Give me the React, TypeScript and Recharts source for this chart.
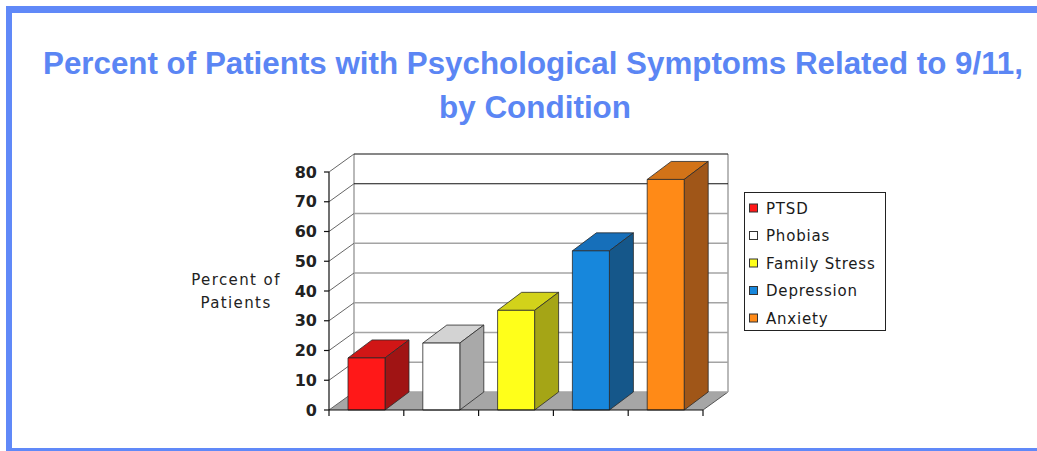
import React from 'react';
import { BarChart, Bar, XAxis, YAxis, CartesianGrid, Legend } from 'recharts';

// ---- data ----
const categories = ['PTSD', 'Phobias', 'Family Stress', 'Depression', 'Anxiety'];
const percentValues = [17.5, 22.5, 33.5, 53.5, 77.5];
const yTicks = [0, 10, 20, 30, 40, 50, 60, 70, 80];

// ---- styles ----
const FRONT = ['#FF1818', '#FFFFFF', '#FFFF1A', '#1787DC', '#FF8A17'];
const TOP = ['#D11616', '#D3D3D3', '#D2D21A', '#166FBA', '#D27318'];
const SIDE = ['#A01414', '#A9A9A9', '#A5A516', '#15578A', '#A05618'];

const W = 1037;
const H = 451;
const MARGIN = { top: 172, right: 334, bottom: 21, left: 269 };
const YAXIS_W = 60;
const XAXIS_H = 20;
const PLOT_LEFT = MARGIN.left + YAXIS_W;
const PLOT_RIGHT = W - MARGIN.right;
const PLOT_TOP = MARGIN.top;
const WALL_DX = 25;
const WALL_DY = 18;
const BAR_DX = 24;
const BAR_DY = 18;
const HALF_BAND = (PLOT_RIGHT - PLOT_LEFT) / categories.length / 2;

const data = categories.map((name, i) => ({ name, value: percentValues[i] }));

const Bar3D = (props: any) => {
  const { x, y, width, height, index } = props;
  if (!height || height <= 0) return null;
  const dx = BAR_DX;
  const dy = BAR_DY;
  return (
    <g stroke="#2a2a2a" strokeWidth={0.8} strokeLinejoin="round">
      <polygon
        points={`${x},${y} ${x + dx},${y - dy} ${x + width + dx},${y - dy} ${x + width},${y}`}
        fill={TOP[index]}
      />
      <polygon
        points={`${x + width},${y} ${x + width + dx},${y - dy} ${x + width + dx},${y + height - dy} ${x + width},${y + height}`}
        fill={SIDE[index]}
      />
      <rect x={x} y={y} width={width} height={height} fill={FRONT[index]} />
    </g>
  );
};

const renderHLine = (p: any) => {
  const { x1, x2, y1, index } = p;
  const bx1 = x1 + WALL_DX;
  const bx2 = x2 + WALL_DX;
  const by = y1 - WALL_DY;
  const last = index === yTicks.length - 1;
  const dark = index === 7 || last;
  return (
    <g key={`h-${index}`}>
      {index === 0 && (
        <g>
          <polygon
            points={`${x1},${y1} ${x2},${y1} ${bx2},${by} ${bx1},${by}`}
            fill="#A6A6A6"
            stroke="none"
          />
          <line x1={x2} y1={y1} x2={bx2} y2={by} stroke="#555" strokeWidth={1} />
          <line x1={bx1} y1={by} x2={bx1} y2={PLOT_TOP - WALL_DY} stroke="#8a8a8a" strokeWidth={1.2} />
          <line x1={bx2} y1={by} x2={bx2} y2={PLOT_TOP - WALL_DY} stroke="#8a8a8a" strokeWidth={1.2} />
        </g>
      )}
      <line x1={x1} y1={y1} x2={bx1} y2={by} stroke="#666" strokeWidth={1} />
      <line
        x1={bx1}
        y1={by}
        x2={bx2}
        y2={by}
        stroke={dark ? '#111' : '#A4A4A4'}
        strokeWidth={dark ? 1.2 : 1.5}
      />
    </g>
  );
};

const XTick = (p: any) => {
  const { x, y, index } = p;
  const lastIdx = categories.length - 1;
  return (
    <g>
      <line x1={x - HALF_BAND} y1={y} x2={x - HALF_BAND} y2={y + 6} stroke="#111" strokeWidth={1.2} />
      {index === lastIdx && (
        <line x1={x + HALF_BAND} y1={y} x2={x + HALF_BAND} y2={y + 6} stroke="#111" strokeWidth={1.2} />
      )}
    </g>
  );
};

const LegendBox = () => (
  <svg width={143} height={140} style={{ display: 'block' }}>
    <rect x={0.5} y={0.5} width={141} height={138} fill="#fff" stroke="#222" strokeWidth={1} />
    {categories.map((c, i) => {
      const cy = 16 + i * 27.5;
      return (
        <g key={c}>
          <rect x={5.5} y={cy - 4} width={8} height={8} fill={FRONT[i]} stroke="#333" strokeWidth={1} />
          <text
            x={22}
            y={cy + 5.5}
            fontFamily="'DejaVu Sans', Verdana, sans-serif"
            fontSize={15}
            letterSpacing={0.8}
            fill="#1a1a1a"
          >
            {c}
          </text>
        </g>
      );
    })}
  </svg>
);

export default function App() {
  return (
    <div style={{ position: 'absolute', left: 0, top: 0, width: W, height: H, background: '#fff' }}>
      <svg width={W} height={H} style={{ position: 'absolute', left: 0, top: 0 }}>
        <rect x={6} y={6} width={W - 6} height={7} fill="#6089F8" />
        <rect x={6} y={6} width={6} height={H - 6} fill="#6089F8" />
        <rect x={6} y={448} width={W - 6} height={3} fill="#6089F8" />
        <text
          x={43}
          y={74}
          fontFamily="'Liberation Sans', Arial, sans-serif"
          fontWeight="bold"
          fontSize={31}
          fill="#5B86F4"
          textLength={980}
          lengthAdjust="spacingAndGlyphs"
        >
          Percent of Patients with Psychological Symptoms Related to 9/11,
        </text>
        <text
          x={439}
          y={118}
          fontFamily="'Liberation Sans', Arial, sans-serif"
          fontWeight="bold"
          fontSize={31}
          fill="#5B86F4"
          textLength={192}
          lengthAdjust="spacingAndGlyphs"
        >
          by Condition
        </text>
        <g fontFamily="'DejaVu Sans', Verdana, sans-serif" fontSize={15} fill="#222" letterSpacing={1.4} textAnchor="middle">
          <text x={236} y={285}>Percent of</text>
          <text x={236} y={308}>Patients</text>
        </g>
      </svg>
      <div style={{ position: 'absolute', left: 0, top: 0 }}>
        <BarChart width={W} height={H} data={data} margin={MARGIN}>
          <CartesianGrid horizontal={renderHLine} vertical={false} />
          <XAxis
            dataKey="name"
            height={XAXIS_H}
            axisLine={{ stroke: '#111', strokeWidth: 1.2 }}
            tickLine={false}
            tickSize={0}
            tickMargin={0}
            tick={<XTick />}
            interval={0}
          />
          <YAxis
            width={YAXIS_W}
            domain={[0, 80]}
            ticks={yTicks}
            interval={0}
            axisLine={{ stroke: '#111', strokeWidth: 1.2 }}
            tickLine={{ stroke: '#111', strokeWidth: 1.2 }}
            tickSize={5}
            tickMargin={7}
            tick={{ fontFamily: "'DejaVu Sans', Verdana, sans-serif", fontWeight: 'bold', fontSize: 16, fill: '#222' }}
          />
          <Legend
            layout="vertical"
            align="center"
            verticalAlign="middle"
            content={() => <LegendBox />}
            wrapperStyle={{ left: 744, top: 192, width: 143, height: 140 }}
          />
          <Bar dataKey="value" barSize={37} shape={Bar3D} isAnimationActive={false} />
        </BarChart>
      </div>
    </div>
  );
}
